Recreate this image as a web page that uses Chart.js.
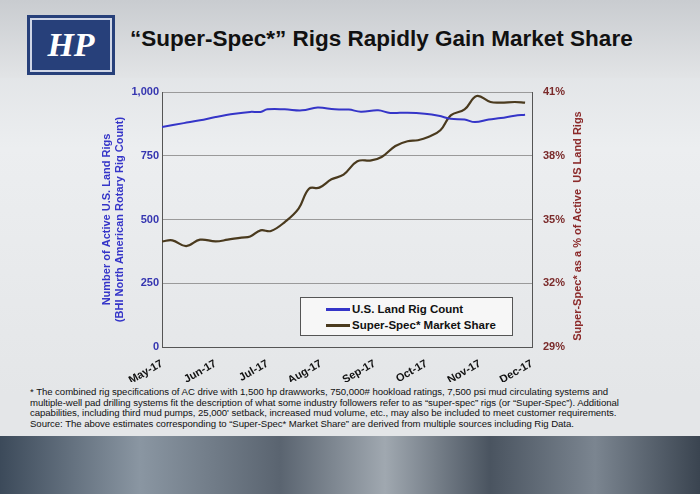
<!DOCTYPE html><html><head><meta charset="utf-8">
<script src="https://cdn.jsdelivr.net/npm/chart.js@4"></script>
<style>
body{margin:0;width:700px;height:494px;overflow:hidden;background:linear-gradient(180deg,#d9dcdf,#eceef0 30%,#e4e6e8 80%);font-family:"Liberation Sans",Arial,sans-serif;position:relative}
#hdr{position:absolute;left:0;top:0;width:700px;height:78px;background:linear-gradient(180deg,#c9ccd0,#e2e4e6)}
#logo{position:absolute;left:30px;top:18px;width:78px;height:50px;background:#27407a;border:2px solid #cfd6e6;color:#fff;font:bold italic 34px "Liberation Serif";text-align:center;line-height:50px;box-shadow:0 0 0 3px #27407a}
#title{position:absolute;left:130px;top:26px;font:bold 22.5px "Liberation Sans",Arial;color:#111}
#wrap{position:absolute;left:100px;top:82px;width:472px;height:300px}
#leg{position:absolute;left:300px;top:297px;width:211px;height:37px;border:1px solid #555;background:#f7f7f7;font:bold 11.5px "Liberation Sans",Arial;color:#111}
#leg div{position:absolute;left:25px;height:14px;line-height:14px}
#leg span{display:inline-block;width:24px;height:3px;vertical-align:middle;margin-right:2px}
#rt{position:absolute;left:577px;top:220px;width:260px;margin-left:-130px;text-align:center;transform:rotate(-90deg);font:bold 11px "Liberation Sans",Arial;color:#8b2a2a;white-space:nowrap}
#note{position:absolute;left:30px;top:387px;width:590px;font:9.6px "Liberation Sans",Arial;color:#111;line-height:10.6px;letter-spacing:-0.05px}
#strip{position:absolute;left:0;top:436px;width:700px;height:58px;background:linear-gradient(90deg,#3c4a5a,#8a96a2 20%,#5a6470 40%,#a0a8b0 55%,#4a5460 70%,#7b8590 85%,#3a4450)}
</style></head><body>
<div id="hdr"></div><div id="logo">HP</div>
<div id="title">“Super-Spec*” Rigs Rapidly Gain Market Share</div>
<div id="wrap"><canvas id="c" width="472" height="300"></canvas></div>
<div id="leg"><div style="top:4px"><span style="background:#3535c8"></span>U.S. Land Rig Count</div><div style="top:20px"><span style="background:#4a3a1e"></span>Super-Spec* Market Share</div></div>
<div id="rt">Super-Spec* as a % of Active&nbsp; US Land Rigs</div>
<div id="note">* The combined rig specifications of AC drive with 1,500 hp drawworks, 750,000# hookload ratings, 7,500 psi mud circulating systems and multiple-well pad drilling systems fit the description of what some industry followers refer to as “super-spec” rigs (or “Super-Spec”). Additional capabilities, including third mud pumps, 25,000' setback, increased mud volume, etc., may also be included to meet customer requirements.<br>Source: The above estimates corresponding to “Super-Spec* Market Share” are derived from multiple sources including Rig Data.</div>
<div id="strip"></div>
<script>
const monthLabels=['May-17','Jun-17','Jul-17','Aug-17','Sep-17','Oct-17','Nov-17','Dec-17'];
const monthDays=[0,31,61,92,123,153,184,214];
const rigDays=[0,12.6,22,31,42,51,57,61,71,81,90,100,108,115,125,132,142,152,160,167,175,181,189,196,204,210];
const rigCount=[863,878,889,902,915,922,922,932,932,928,939,932,931,923,928,918,919,915,907,895,892,882,892,898,907,911];
const shareDays=[0,6,14,22,31,38,46,51,57,63,71,79,85,91,98,105,113,121,127,135,142,148,154,161,167,175,182,190,196,204,210];
const sharePct=[33.97,34.02,33.75,34.05,33.97,34.05,34.15,34.2,34.49,34.46,34.88,35.51,36.45,36.5,36.89,37.11,37.74,37.78,37.94,38.46,38.68,38.73,38.88,39.2,39.9,40.18,40.81,40.53,40.5,40.53,40.5];
const rightTicks=[29,32,35,38,41];
const toPts=(xs,ys)=>xs.map((x,i)=>({x,y:ys[i]}));
new Chart(document.getElementById('c'),{type:'line',
data:{datasets:[
{data:toPts(rigDays,rigCount),borderColor:'#3535c8',borderWidth:2,pointRadius:0,tension:0.4,yAxisID:'y'},
{data:toPts(shareDays,sharePct),borderColor:'#4a3a1e',borderWidth:2.2,pointRadius:0,tension:0.4,yAxisID:'y2'}]},
options:{responsive:false,animation:false,plugins:{legend:{display:false},tooltip:{enabled:false}},
layout:{padding:{left:0,right:0,top:10,bottom:0}},
scales:{
x:{type:'linear',min:0,max:214,afterBuildTicks:a=>{a.ticks=monthDays.map(v=>({value:v}))},afterFit:s=>{s.height=35},
ticks:{callback:(v)=>monthLabels[monthDays.indexOf(v)],maxRotation:30,minRotation:30,autoSkip:false,color:'#111',font:{weight:'bold',size:11},padding:2},
grid:{display:false},border:{color:'#555'}},
y:{min:0,max:1000,afterBuildTicks:a=>{a.ticks=[0,250,500,750,1000].map(v=>({value:v}))},afterFit:s=>{s.width=62},
ticks:{color:'#3535b0',font:{weight:'bold',size:11},callback:v=>v.toLocaleString('en-US')},
grid:{color:'#9a9a9a',drawTicks:false},border:{color:'#555'},
title:{display:true,text:['Number of Active U.S. Land Rigs','(BHI North American Rotary Rig Count)'],color:'#3535c8',font:{weight:'bold',size:11},padding:0}},
y2:{position:'right',min:29,max:41,afterBuildTicks:a=>{a.ticks=rightTicks.map(v=>({value:v}))},afterFit:s=>{s.width=40},
ticks:{color:'#7a2a2a',font:{weight:'bold',size:11},callback:v=>v+'%'},grid:{display:false},border:{color:'#555'}}}}});
</script></body></html>
